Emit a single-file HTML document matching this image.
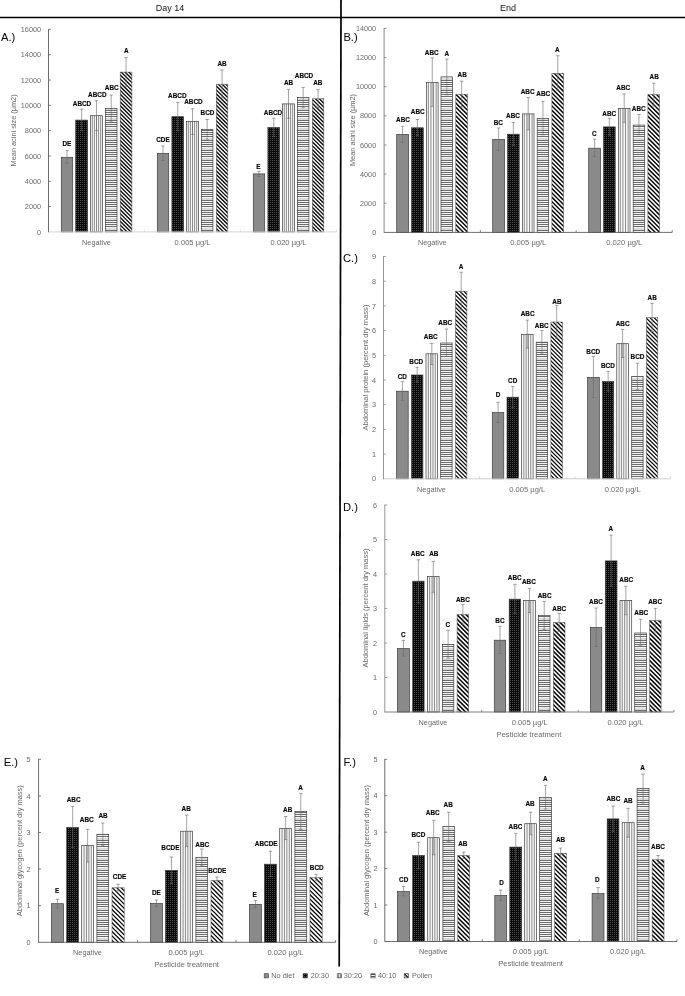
<!DOCTYPE html>
<html lang="en"><head><meta charset="utf-8"><title>Figure</title>
<style>
html,body{margin:0;padding:0;background:#fff;}
svg{display:block;}
text{font-family:"Liberation Sans",sans-serif;}
.g{fill:#6a6a6a;font-size:7.3px;}
.b{fill:#000;stroke:#000;stroke-width:0.12px;font-size:6.4px;font-weight:bold;text-anchor:middle;}
.p{fill:#000;font-size:11.2px;}
.h{fill:#111;font-size:9px;text-anchor:middle;}
.e{stroke:#6a6a6a;stroke-width:0.6;fill:none;}
.bar{stroke:#3c3c3c;stroke-width:0.7;}
</style></head><body>
<svg width="685" height="996" viewBox="0 0 685 996">
<defs>
<pattern id="pDots" patternUnits="userSpaceOnUse" width="2" height="2"><rect width="2" height="2" fill="#0a0a0a"/><rect x="0" y="0" width="1" height="1" fill="#4c4c4c"/></pattern>
<pattern id="pHorz" patternUnits="userSpaceOnUse" width="8" height="10"><rect width="8" height="10" fill="#f5f5f5"/><rect y="0" width="8" height="1" fill="#6c6c6c"/><rect y="2" width="8" height="1" fill="#6c6c6c"/><rect y="4" width="8" height="1" fill="#6c6c6c"/><rect y="6" width="8" height="1" fill="#6c6c6c"/><rect y="8" width="8" height="2" fill="#dadada"/></pattern>
<pattern id="pVertL" patternUnits="userSpaceOnUse" width="2" height="8" x="0.2"><rect width="2" height="8" fill="#f3f3f3"/><rect x="0" y="0" width="1" height="8" fill="#777"/></pattern>
<pattern id="pHorzL" patternUnits="userSpaceOnUse" width="8" height="2"><rect width="8" height="2" fill="#f5f5f5"/><rect x="0" y="0" width="8" height="1" fill="#555"/></pattern>
<pattern id="pDiagL" patternUnits="userSpaceOnUse" width="3" height="3" patternTransform="rotate(45)"><rect width="3" height="3" fill="#fff"/><rect x="0" y="0" width="3" height="1.5" fill="#0a0a0a"/></pattern>
</defs>
<rect width="685" height="996" fill="#fff"/>
<text class="h" x="170" y="11.12">Day 14</text>
<text class="h" x="508" y="11.12">End</text>
<line x1="0" y1="17.5" x2="685" y2="17.5" stroke="#000" stroke-width="1.7"/>
<line x1="341" y1="0" x2="339.2" y2="966.6" stroke="#000" stroke-width="1.7"/>
<g id="chartA">
<rect class="bar" x="61.3" y="157.3" width="11.4" height="74.6" fill="#8a8a8a"/>
<rect class="bar" x="75.7" y="120.1" width="11.9" height="111.8" fill="url(#pDots)"/>
<rect x="90.6" y="115.7" width="11.8" height="116.2" fill="#f9f9f9"/>
<path d="M92.3 115.7V231.9M94.4 115.7V231.9M96.5 115.7V231.9M98.6 115.7V231.9M100.7 115.7V231.9" stroke="#484848" stroke-width="0.62" fill="none"/>
<rect class="bar" x="90.6" y="115.7" width="11.8" height="116.2" fill="none"/>
<rect class="bar" x="105.4" y="108.5" width="11.6" height="123.4" fill="url(#pHorz)"/>
<clipPath id="cA4"><rect x="120.2" y="72.1" width="11.7" height="159.8"/></clipPath>
<rect x="120.2" y="72.1" width="11.7" height="159.8" fill="#fff"/>
<path clip-path="url(#cA4)" d="M119 58.35l14.1 14.1M119 62.2l14.1 14.1M119 66.05l14.1 14.1M119 69.9l14.1 14.1M119 73.75l14.1 14.1M119 77.6l14.1 14.1M119 81.45l14.1 14.1M119 85.3l14.1 14.1M119 89.15l14.1 14.1M119 93l14.1 14.1M119 96.85l14.1 14.1M119 100.7l14.1 14.1M119 104.55l14.1 14.1M119 108.4l14.1 14.1M119 112.25l14.1 14.1M119 116.1l14.1 14.1M119 119.95l14.1 14.1M119 123.8l14.1 14.1M119 127.65l14.1 14.1M119 131.5l14.1 14.1M119 135.35l14.1 14.1M119 139.2l14.1 14.1M119 143.05l14.1 14.1M119 146.9l14.1 14.1M119 150.75l14.1 14.1M119 154.6l14.1 14.1M119 158.45l14.1 14.1M119 162.3l14.1 14.1M119 166.15l14.1 14.1M119 170l14.1 14.1M119 173.85l14.1 14.1M119 177.7l14.1 14.1M119 181.55l14.1 14.1M119 185.4l14.1 14.1M119 189.25l14.1 14.1M119 193.1l14.1 14.1M119 196.95l14.1 14.1M119 200.8l14.1 14.1M119 204.65l14.1 14.1M119 208.5l14.1 14.1M119 212.35l14.1 14.1M119 216.2l14.1 14.1M119 220.05l14.1 14.1M119 223.9l14.1 14.1M119 227.75l14.1 14.1M119 231.6l14.1 14.1" stroke="#0a0a0a" stroke-width="1.36" fill="none"/>
<rect class="bar" x="120.2" y="72.1" width="11.7" height="159.8" fill="none" style="stroke:#555;stroke-width:0.55"/>
<rect class="bar" x="157.3" y="153.3" width="11.4" height="78.6" fill="#8a8a8a"/>
<rect class="bar" x="171.9" y="116.7" width="11.7" height="115.2" fill="url(#pDots)"/>
<rect x="186.6" y="121.5" width="11.8" height="110.4" fill="#f9f9f9"/>
<path d="M188.3 121.5V231.9M190.4 121.5V231.9M192.5 121.5V231.9M194.6 121.5V231.9M196.7 121.5V231.9" stroke="#484848" stroke-width="0.62" fill="none"/>
<rect class="bar" x="186.6" y="121.5" width="11.8" height="110.4" fill="none"/>
<rect class="bar" x="201.4" y="129.4" width="11.5" height="102.5" fill="url(#pHorz)"/>
<clipPath id="cA9"><rect x="216.3" y="84.2" width="11.5" height="147.7"/></clipPath>
<rect x="216.3" y="84.2" width="11.5" height="147.7" fill="#fff"/>
<path clip-path="url(#cA9)" d="M215.1 69.45l13.9 13.9M215.1 73.3l13.9 13.9M215.1 77.15l13.9 13.9M215.1 81l13.9 13.9M215.1 84.85l13.9 13.9M215.1 88.7l13.9 13.9M215.1 92.55l13.9 13.9M215.1 96.4l13.9 13.9M215.1 100.25l13.9 13.9M215.1 104.1l13.9 13.9M215.1 107.95l13.9 13.9M215.1 111.8l13.9 13.9M215.1 115.65l13.9 13.9M215.1 119.5l13.9 13.9M215.1 123.35l13.9 13.9M215.1 127.2l13.9 13.9M215.1 131.05l13.9 13.9M215.1 134.9l13.9 13.9M215.1 138.75l13.9 13.9M215.1 142.6l13.9 13.9M215.1 146.45l13.9 13.9M215.1 150.3l13.9 13.9M215.1 154.15l13.9 13.9M215.1 158l13.9 13.9M215.1 161.85l13.9 13.9M215.1 165.7l13.9 13.9M215.1 169.55l13.9 13.9M215.1 173.4l13.9 13.9M215.1 177.25l13.9 13.9M215.1 181.1l13.9 13.9M215.1 184.95l13.9 13.9M215.1 188.8l13.9 13.9M215.1 192.65l13.9 13.9M215.1 196.5l13.9 13.9M215.1 200.35l13.9 13.9M215.1 204.2l13.9 13.9M215.1 208.05l13.9 13.9M215.1 211.9l13.9 13.9M215.1 215.75l13.9 13.9M215.1 219.6l13.9 13.9M215.1 223.45l13.9 13.9M215.1 227.3l13.9 13.9M215.1 231.15l13.9 13.9" stroke="#0a0a0a" stroke-width="1.36" fill="none"/>
<rect class="bar" x="216.3" y="84.2" width="11.5" height="147.7" fill="none" style="stroke:#555;stroke-width:0.55"/>
<rect class="bar" x="253.3" y="173.9" width="11.4" height="58" fill="#8a8a8a"/>
<rect class="bar" x="267.9" y="127.5" width="11.7" height="104.4" fill="url(#pDots)"/>
<rect x="282.6" y="103.9" width="11.8" height="128" fill="#f9f9f9"/>
<path d="M284.3 103.9V231.9M286.4 103.9V231.9M288.5 103.9V231.9M290.6 103.9V231.9M292.7 103.9V231.9" stroke="#484848" stroke-width="0.62" fill="none"/>
<rect class="bar" x="282.6" y="103.9" width="11.8" height="128" fill="none"/>
<rect class="bar" x="297.4" y="97.6" width="11.5" height="134.3" fill="url(#pHorz)"/>
<clipPath id="cA14"><rect x="312.3" y="98.8" width="11.5" height="133.1"/></clipPath>
<rect x="312.3" y="98.8" width="11.5" height="133.1" fill="#fff"/>
<path clip-path="url(#cA14)" d="M311.1 86.7l13.9 13.9M311.1 90.55l13.9 13.9M311.1 94.4l13.9 13.9M311.1 98.25l13.9 13.9M311.1 102.1l13.9 13.9M311.1 105.95l13.9 13.9M311.1 109.8l13.9 13.9M311.1 113.65l13.9 13.9M311.1 117.5l13.9 13.9M311.1 121.35l13.9 13.9M311.1 125.2l13.9 13.9M311.1 129.05l13.9 13.9M311.1 132.9l13.9 13.9M311.1 136.75l13.9 13.9M311.1 140.6l13.9 13.9M311.1 144.45l13.9 13.9M311.1 148.3l13.9 13.9M311.1 152.15l13.9 13.9M311.1 156l13.9 13.9M311.1 159.85l13.9 13.9M311.1 163.7l13.9 13.9M311.1 167.55l13.9 13.9M311.1 171.4l13.9 13.9M311.1 175.25l13.9 13.9M311.1 179.1l13.9 13.9M311.1 182.95l13.9 13.9M311.1 186.8l13.9 13.9M311.1 190.65l13.9 13.9M311.1 194.5l13.9 13.9M311.1 198.35l13.9 13.9M311.1 202.2l13.9 13.9M311.1 206.05l13.9 13.9M311.1 209.9l13.9 13.9M311.1 213.75l13.9 13.9M311.1 217.6l13.9 13.9M311.1 221.45l13.9 13.9M311.1 225.3l13.9 13.9M311.1 229.15l13.9 13.9" stroke="#0a0a0a" stroke-width="1.36" fill="none"/>
<rect class="bar" x="312.3" y="98.8" width="11.5" height="133.1" fill="none" style="stroke:#555;stroke-width:0.55"/>
<line x1="48.5" y1="231.9" x2="336.4" y2="231.9" stroke="#cfcfcf" stroke-width="0.9"/>
<line x1="144.4" y1="231.9" x2="144.4" y2="229.7" stroke="#cfcfcf" stroke-width="0.8"/>
<line x1="240.4" y1="231.9" x2="240.4" y2="229.7" stroke="#cfcfcf" stroke-width="0.8"/>
<line x1="336.4" y1="231.9" x2="336.4" y2="229.7" stroke="#cfcfcf" stroke-width="0.8"/>
<line x1="48.5" y1="29" x2="48.5" y2="232.3" stroke="#5e5e5e" stroke-width="0.9"/>
<text class="g" text-anchor="end" x="41.1" y="234.51">0</text>
<line x1="48.5" y1="206.59" x2="50.9" y2="206.59" stroke="#5e5e5e" stroke-width="0.8"/>
<text class="g" text-anchor="end" x="41.1" y="209.2">2000</text>
<line x1="48.5" y1="181.28" x2="50.9" y2="181.28" stroke="#5e5e5e" stroke-width="0.8"/>
<text class="g" text-anchor="end" x="41.1" y="183.89">4000</text>
<line x1="48.5" y1="155.96" x2="50.9" y2="155.96" stroke="#5e5e5e" stroke-width="0.8"/>
<text class="g" text-anchor="end" x="41.1" y="158.58">6000</text>
<line x1="48.5" y1="130.65" x2="50.9" y2="130.65" stroke="#5e5e5e" stroke-width="0.8"/>
<text class="g" text-anchor="end" x="41.1" y="133.26">8000</text>
<line x1="48.5" y1="105.34" x2="50.9" y2="105.34" stroke="#5e5e5e" stroke-width="0.8"/>
<text class="g" text-anchor="end" x="41.1" y="107.95">10000</text>
<line x1="48.5" y1="80.03" x2="50.9" y2="80.03" stroke="#5e5e5e" stroke-width="0.8"/>
<text class="g" text-anchor="end" x="41.1" y="82.64">12000</text>
<line x1="48.5" y1="54.71" x2="50.9" y2="54.71" stroke="#5e5e5e" stroke-width="0.8"/>
<text class="g" text-anchor="end" x="41.1" y="57.33">14000</text>
<line x1="48.5" y1="29.4" x2="50.9" y2="29.4" stroke="#5e5e5e" stroke-width="0.8"/>
<text class="g" text-anchor="end" x="41.1" y="32.01">16000</text>
<path class="e" d="M67 150.6V163.3M65.3 150.6H68.7M65.3 163.3H68.7"/>
<text class="b" x="66.9" y="146.09">DE</text>
<path class="e" d="M81.65 109.1V130.7M79.95 109.1H83.35M79.95 130.7H83.35"/>
<text class="b" x="82" y="106.19">ABCD</text>
<path class="e" d="M96.5 100.6V130.4M94.8 100.6H98.2M94.8 130.4H98.2"/>
<text class="b" x="97.3" y="97.09">ABCD</text>
<path class="e" d="M111.2 95V121.9M109.5 95H112.9M109.5 121.9H112.9"/>
<text class="b" x="111.7" y="90.49">ABC</text>
<path class="e" d="M126.05 57.5V86.3M124.35 57.5H127.75M124.35 86.3H127.75"/>
<text class="b" x="126.2" y="53.29">A</text>
<path class="e" d="M163 146V160.5M161.3 146H164.7M161.3 160.5H164.7"/>
<text class="b" x="163" y="142.09">CDE</text>
<path class="e" d="M177.75 102.4V130.6M176.05 102.4H179.45M176.05 130.6H179.45"/>
<text class="b" x="177.3" y="97.89">ABCD</text>
<path class="e" d="M192.5 108.7V134.4M190.8 108.7H194.2M190.8 134.4H194.2"/>
<text class="b" x="193.4" y="104.29">ABCD</text>
<path class="e" d="M207.15 119.5V139.8M205.45 119.5H208.85M205.45 139.8H208.85"/>
<text class="b" x="207.5" y="114.99">BCD</text>
<path class="e" d="M222.05 70.1V97.9M220.35 70.1H223.75M220.35 97.9H223.75"/>
<text class="b" x="222" y="65.79">AB</text>
<path class="e" d="M259 171.3V176.5M257.3 171.3H260.7M257.3 176.5H260.7"/>
<text class="b" x="258.3" y="168.99">E</text>
<path class="e" d="M273.75 118.3V136.4M272.05 118.3H275.45M272.05 136.4H275.45"/>
<text class="b" x="273" y="114.99">ABCD</text>
<path class="e" d="M288.5 89.4V118.3M286.8 89.4H290.2M286.8 118.3H290.2"/>
<text class="b" x="288.6" y="84.69">AB</text>
<path class="e" d="M303.15 87.4V107.9M301.45 87.4H304.85M301.45 107.9H304.85"/>
<text class="b" x="304" y="77.79">ABCD</text>
<path class="e" d="M318.05 89.4V107.8M316.35 89.4H319.75M316.35 107.8H319.75"/>
<text class="b" x="317.8" y="84.69">AB</text>
<text class="g" text-anchor="middle" textLength="28.8" lengthAdjust="spacingAndGlyphs" x="96.5" y="244.59">Negative</text>
<text class="g" text-anchor="middle" textLength="36" lengthAdjust="spacingAndGlyphs" x="192.6" y="244.59">0.005 µg/L</text>
<text class="g" text-anchor="middle" textLength="36" lengthAdjust="spacingAndGlyphs" x="288.6" y="244.59">0.020 µg/L</text>
<text class="g" text-anchor="middle" textLength="72" lengthAdjust="spacingAndGlyphs" transform="translate(16.34 130.4) rotate(-90)" x="0" y="0">Mean acini size (µm2)</text>
<text class="p" x="1" y="41.06">A.)</text>
</g>
<g id="chartB">
<rect class="bar" x="396.7" y="134.4" width="11.8" height="98" fill="#8a8a8a"/>
<rect class="bar" x="411.5" y="127.8" width="11.8" height="104.6" fill="url(#pDots)"/>
<rect x="426.4" y="82.6" width="11.7" height="149.8" fill="#f9f9f9"/>
<path d="M428.35 82.6V232.4M430.95 82.6V232.4M433.55 82.6V232.4M436.15 82.6V232.4" stroke="#484848" stroke-width="0.62" fill="none"/>
<rect class="bar" x="426.4" y="82.6" width="11.7" height="149.8" fill="none"/>
<rect class="bar" x="441" y="76.9" width="11.6" height="155.5" fill="url(#pHorz)"/>
<clipPath id="cB4"><rect x="455.8" y="94.2" width="11.7" height="138.2"/></clipPath>
<rect x="455.8" y="94.2" width="11.7" height="138.2" fill="#fff"/>
<path clip-path="url(#cB4)" d="M454.6 79.95l14.1 14.1M454.6 84.3l14.1 14.1M454.6 88.65l14.1 14.1M454.6 93l14.1 14.1M454.6 97.35l14.1 14.1M454.6 101.7l14.1 14.1M454.6 106.05l14.1 14.1M454.6 110.4l14.1 14.1M454.6 114.75l14.1 14.1M454.6 119.1l14.1 14.1M454.6 123.45l14.1 14.1M454.6 127.8l14.1 14.1M454.6 132.15l14.1 14.1M454.6 136.5l14.1 14.1M454.6 140.85l14.1 14.1M454.6 145.2l14.1 14.1M454.6 149.55l14.1 14.1M454.6 153.9l14.1 14.1M454.6 158.25l14.1 14.1M454.6 162.6l14.1 14.1M454.6 166.95l14.1 14.1M454.6 171.3l14.1 14.1M454.6 175.65l14.1 14.1M454.6 180l14.1 14.1M454.6 184.35l14.1 14.1M454.6 188.7l14.1 14.1M454.6 193.05l14.1 14.1M454.6 197.4l14.1 14.1M454.6 201.75l14.1 14.1M454.6 206.1l14.1 14.1M454.6 210.45l14.1 14.1M454.6 214.8l14.1 14.1M454.6 219.15l14.1 14.1M454.6 223.5l14.1 14.1M454.6 227.85l14.1 14.1M454.6 232.2l14.1 14.1" stroke="#0a0a0a" stroke-width="1.45" fill="none"/>
<rect class="bar" x="455.8" y="94.2" width="11.7" height="138.2" fill="none" style="stroke:#555;stroke-width:0.55"/>
<rect class="bar" x="492.7" y="139.4" width="11.8" height="93" fill="#8a8a8a"/>
<rect class="bar" x="507.5" y="134.2" width="11.7" height="98.2" fill="url(#pDots)"/>
<rect x="522.4" y="113.9" width="11.6" height="118.5" fill="#f9f9f9"/>
<path d="M524.3 113.9V232.4M526.9 113.9V232.4M529.5 113.9V232.4M532.1 113.9V232.4" stroke="#484848" stroke-width="0.62" fill="none"/>
<rect class="bar" x="522.4" y="113.9" width="11.6" height="118.5" fill="none"/>
<rect class="bar" x="537.2" y="118.5" width="11.5" height="113.9" fill="url(#pHorz)"/>
<clipPath id="cB9"><rect x="551.9" y="73.3" width="11.7" height="159.1"/></clipPath>
<rect x="551.9" y="73.3" width="11.7" height="159.1" fill="#fff"/>
<path clip-path="url(#cB9)" d="M550.7 61.2l14.1 14.1M550.7 65.55l14.1 14.1M550.7 69.9l14.1 14.1M550.7 74.25l14.1 14.1M550.7 78.6l14.1 14.1M550.7 82.95l14.1 14.1M550.7 87.3l14.1 14.1M550.7 91.65l14.1 14.1M550.7 96l14.1 14.1M550.7 100.35l14.1 14.1M550.7 104.7l14.1 14.1M550.7 109.05l14.1 14.1M550.7 113.4l14.1 14.1M550.7 117.75l14.1 14.1M550.7 122.1l14.1 14.1M550.7 126.45l14.1 14.1M550.7 130.8l14.1 14.1M550.7 135.15l14.1 14.1M550.7 139.5l14.1 14.1M550.7 143.85l14.1 14.1M550.7 148.2l14.1 14.1M550.7 152.55l14.1 14.1M550.7 156.9l14.1 14.1M550.7 161.25l14.1 14.1M550.7 165.6l14.1 14.1M550.7 169.95l14.1 14.1M550.7 174.3l14.1 14.1M550.7 178.65l14.1 14.1M550.7 183l14.1 14.1M550.7 187.35l14.1 14.1M550.7 191.7l14.1 14.1M550.7 196.05l14.1 14.1M550.7 200.4l14.1 14.1M550.7 204.75l14.1 14.1M550.7 209.1l14.1 14.1M550.7 213.45l14.1 14.1M550.7 217.8l14.1 14.1M550.7 222.15l14.1 14.1M550.7 226.5l14.1 14.1M550.7 230.85l14.1 14.1" stroke="#0a0a0a" stroke-width="1.45" fill="none"/>
<rect class="bar" x="551.9" y="73.3" width="11.7" height="159.1" fill="none" style="stroke:#555;stroke-width:0.55"/>
<rect class="bar" x="588.7" y="148.2" width="11.8" height="84.2" fill="#8a8a8a"/>
<rect class="bar" x="603.5" y="126.9" width="11.7" height="105.5" fill="url(#pDots)"/>
<rect x="618.4" y="108.3" width="11.6" height="124.1" fill="#f9f9f9"/>
<path d="M620.3 108.3V232.4M622.9 108.3V232.4M625.5 108.3V232.4M628.1 108.3V232.4" stroke="#484848" stroke-width="0.62" fill="none"/>
<rect class="bar" x="618.4" y="108.3" width="11.6" height="124.1" fill="none"/>
<rect class="bar" x="633.2" y="125.1" width="11.5" height="107.3" fill="url(#pHorz)"/>
<clipPath id="cB14"><rect x="647.9" y="94.6" width="11.7" height="137.8"/></clipPath>
<rect x="647.9" y="94.6" width="11.7" height="137.8" fill="#fff"/>
<path clip-path="url(#cB14)" d="M646.7 80.3l14.1 14.1M646.7 84.65l14.1 14.1M646.7 89l14.1 14.1M646.7 93.35l14.1 14.1M646.7 97.7l14.1 14.1M646.7 102.05l14.1 14.1M646.7 106.4l14.1 14.1M646.7 110.75l14.1 14.1M646.7 115.1l14.1 14.1M646.7 119.45l14.1 14.1M646.7 123.8l14.1 14.1M646.7 128.15l14.1 14.1M646.7 132.5l14.1 14.1M646.7 136.85l14.1 14.1M646.7 141.2l14.1 14.1M646.7 145.55l14.1 14.1M646.7 149.9l14.1 14.1M646.7 154.25l14.1 14.1M646.7 158.6l14.1 14.1M646.7 162.95l14.1 14.1M646.7 167.3l14.1 14.1M646.7 171.65l14.1 14.1M646.7 176l14.1 14.1M646.7 180.35l14.1 14.1M646.7 184.7l14.1 14.1M646.7 189.05l14.1 14.1M646.7 193.4l14.1 14.1M646.7 197.75l14.1 14.1M646.7 202.1l14.1 14.1M646.7 206.45l14.1 14.1M646.7 210.8l14.1 14.1M646.7 215.15l14.1 14.1M646.7 219.5l14.1 14.1M646.7 223.85l14.1 14.1M646.7 228.2l14.1 14.1M646.7 232.55l14.1 14.1" stroke="#0a0a0a" stroke-width="1.45" fill="none"/>
<rect class="bar" x="647.9" y="94.6" width="11.7" height="137.8" fill="none" style="stroke:#555;stroke-width:0.55"/>
<line x1="384.1" y1="232.4" x2="672.2" y2="232.4" stroke="#5e5e5e" stroke-width="0.9"/>
<line x1="480.4" y1="232.4" x2="480.4" y2="230.2" stroke="#5e5e5e" stroke-width="0.8"/>
<line x1="576.2" y1="232.4" x2="576.2" y2="230.2" stroke="#5e5e5e" stroke-width="0.8"/>
<line x1="672.2" y1="232.4" x2="672.2" y2="230.2" stroke="#5e5e5e" stroke-width="0.8"/>
<line x1="384.1" y1="28" x2="384.1" y2="232.8" stroke="#7a7a7a" stroke-width="0.9"/>
<text class="g" text-anchor="end" x="376.2" y="235.01">0</text>
<line x1="384.1" y1="203.26" x2="386.5" y2="203.26" stroke="#7a7a7a" stroke-width="0.8"/>
<text class="g" text-anchor="end" x="376.2" y="205.87">2000</text>
<line x1="384.1" y1="174.11" x2="386.5" y2="174.11" stroke="#7a7a7a" stroke-width="0.8"/>
<text class="g" text-anchor="end" x="376.2" y="176.73">4000</text>
<line x1="384.1" y1="144.97" x2="386.5" y2="144.97" stroke="#7a7a7a" stroke-width="0.8"/>
<text class="g" text-anchor="end" x="376.2" y="147.58">6000</text>
<line x1="384.1" y1="115.83" x2="386.5" y2="115.83" stroke="#7a7a7a" stroke-width="0.8"/>
<text class="g" text-anchor="end" x="376.2" y="118.44">8000</text>
<line x1="384.1" y1="86.69" x2="386.5" y2="86.69" stroke="#7a7a7a" stroke-width="0.8"/>
<text class="g" text-anchor="end" x="376.2" y="89.3">10000</text>
<line x1="384.1" y1="57.54" x2="386.5" y2="57.54" stroke="#7a7a7a" stroke-width="0.8"/>
<text class="g" text-anchor="end" x="376.2" y="60.16">12000</text>
<line x1="384.1" y1="28.4" x2="386.5" y2="28.4" stroke="#7a7a7a" stroke-width="0.8"/>
<text class="g" text-anchor="end" x="376.2" y="31.01">14000</text>
<path class="e" d="M402.6 126.3V142.4M400.9 126.3H404.3M400.9 142.4H404.3"/>
<text class="b" x="403" y="122.19">ABC</text>
<path class="e" d="M417.4 119.5V135.7M415.7 119.5H419.1M415.7 135.7H419.1"/>
<text class="b" x="417.8" y="113.99">ABC</text>
<path class="e" d="M432.25 57.9V106.3M430.55 57.9H433.95M430.55 106.3H433.95"/>
<text class="b" x="431.8" y="55.19">ABC</text>
<path class="e" d="M446.8 59.1V94.8M445.1 59.1H448.5M445.1 94.8H448.5"/>
<text class="b" x="446.9" y="55.99">A</text>
<path class="e" d="M461.65 81.2V106.8M459.95 81.2H463.35M459.95 106.8H463.35"/>
<text class="b" x="462.2" y="76.99">AB</text>
<path class="e" d="M498.6 128V150.4M496.9 128H500.3M496.9 150.4H500.3"/>
<text class="b" x="498.3" y="124.59">BC</text>
<path class="e" d="M513.35 122.5V145.2M511.65 122.5H515.05M511.65 145.2H515.05"/>
<text class="b" x="513" y="118.19">ABC</text>
<path class="e" d="M528.2 97.6V129.8M526.5 97.6H529.9M526.5 129.8H529.9"/>
<text class="b" x="527.6" y="93.89">ABC</text>
<path class="e" d="M542.95 101.4V134.8M541.25 101.4H544.65M541.25 134.8H544.65"/>
<text class="b" x="543.3" y="96.49">ABC</text>
<path class="e" d="M557.75 55.7V90.2M556.05 55.7H559.45M556.05 90.2H559.45"/>
<text class="b" x="557.4" y="52.29">A</text>
<path class="e" d="M594.6 139.2V156.5M592.9 139.2H596.3M592.9 156.5H596.3"/>
<text class="b" x="594.3" y="135.69">C</text>
<path class="e" d="M609.35 118.3V135.1M607.65 118.3H611.05M607.65 135.1H611.05"/>
<text class="b" x="609.2" y="115.79">ABC</text>
<path class="e" d="M624.2 94V122.3M622.5 94H625.9M622.5 122.3H625.9"/>
<text class="b" x="623.2" y="90.09">ABC</text>
<path class="e" d="M638.95 114.5V134.8M637.25 114.5H640.65M637.25 134.8H640.65"/>
<text class="b" x="638.7" y="111.19">ABC</text>
<path class="e" d="M653.75 83.2V105.9M652.05 83.2H655.45M652.05 105.9H655.45"/>
<text class="b" x="654.2" y="79.19">AB</text>
<text class="g" text-anchor="middle" textLength="28.8" lengthAdjust="spacingAndGlyphs" x="432.3" y="244.59">Negative</text>
<text class="g" text-anchor="middle" textLength="36" lengthAdjust="spacingAndGlyphs" x="528.3" y="244.59">0.005 µg/L</text>
<text class="g" text-anchor="middle" textLength="36" lengthAdjust="spacingAndGlyphs" x="624.3" y="244.59">0.020 µg/L</text>
<text class="g" text-anchor="middle" textLength="72" lengthAdjust="spacingAndGlyphs" transform="translate(354.54 130) rotate(-90)" x="0" y="0">Mean acini size (µm2)</text>
<text class="p" x="343.4" y="41.36">B.)</text>
</g>
<g id="chartC">
<rect class="bar" x="396.6" y="391.2" width="11.6" height="87.6" fill="#8a8a8a"/>
<rect class="bar" x="411.5" y="375" width="11.4" height="103.8" fill="url(#pDots)"/>
<rect x="426" y="353.8" width="11.6" height="125" fill="#f9f9f9"/>
<path d="M428.35 353.8V478.8M430.65 353.8V478.8M432.95 353.8V478.8M435.25 353.8V478.8" stroke="#484848" stroke-width="0.62" fill="none"/>
<rect class="bar" x="426" y="353.8" width="11.6" height="125" fill="none"/>
<rect class="bar" x="440.7" y="343" width="11.4" height="135.8" fill="url(#pHorz)"/>
<clipPath id="cC4"><rect x="455.5" y="291.2" width="11.4" height="187.6"/></clipPath>
<rect x="455.5" y="291.2" width="11.4" height="187.6" fill="#fff"/>
<path clip-path="url(#cC4)" d="M454.3 277.51l13.8 13.8M454.3 281.6l13.8 13.8M454.3 285.69l13.8 13.8M454.3 289.78l13.8 13.8M454.3 293.87l13.8 13.8M454.3 297.96l13.8 13.8M454.3 302.05l13.8 13.8M454.3 306.14l13.8 13.8M454.3 310.23l13.8 13.8M454.3 314.32l13.8 13.8M454.3 318.41l13.8 13.8M454.3 322.5l13.8 13.8M454.3 326.59l13.8 13.8M454.3 330.68l13.8 13.8M454.3 334.77l13.8 13.8M454.3 338.86l13.8 13.8M454.3 342.95l13.8 13.8M454.3 347.04l13.8 13.8M454.3 351.13l13.8 13.8M454.3 355.22l13.8 13.8M454.3 359.31l13.8 13.8M454.3 363.4l13.8 13.8M454.3 367.49l13.8 13.8M454.3 371.58l13.8 13.8M454.3 375.67l13.8 13.8M454.3 379.76l13.8 13.8M454.3 383.85l13.8 13.8M454.3 387.94l13.8 13.8M454.3 392.03l13.8 13.8M454.3 396.12l13.8 13.8M454.3 400.21l13.8 13.8M454.3 404.3l13.8 13.8M454.3 408.39l13.8 13.8M454.3 412.48l13.8 13.8M454.3 416.57l13.8 13.8M454.3 420.66l13.8 13.8M454.3 424.75l13.8 13.8M454.3 428.84l13.8 13.8M454.3 432.93l13.8 13.8M454.3 437.02l13.8 13.8M454.3 441.11l13.8 13.8M454.3 445.2l13.8 13.8M454.3 449.29l13.8 13.8M454.3 453.38l13.8 13.8M454.3 457.47l13.8 13.8M454.3 461.56l13.8 13.8M454.3 465.65l13.8 13.8M454.3 469.74l13.8 13.8M454.3 473.83l13.8 13.8M454.3 477.92l13.8 13.8" stroke="#0a0a0a" stroke-width="1.27" fill="none"/>
<rect class="bar" x="455.5" y="291.2" width="11.4" height="187.6" fill="none" style="stroke:#555;stroke-width:0.55"/>
<rect class="bar" x="492.3" y="412.6" width="11.5" height="66.2" fill="#8a8a8a"/>
<rect class="bar" x="507" y="397.2" width="11.5" height="81.6" fill="url(#pDots)"/>
<rect x="521.5" y="334.3" width="11.6" height="144.5" fill="#f9f9f9"/>
<path d="M523.85 334.3V478.8M526.15 334.3V478.8M528.45 334.3V478.8M530.75 334.3V478.8" stroke="#484848" stroke-width="0.62" fill="none"/>
<rect class="bar" x="521.5" y="334.3" width="11.6" height="144.5" fill="none"/>
<rect class="bar" x="536.2" y="342.2" width="11.4" height="136.6" fill="url(#pHorz)"/>
<clipPath id="cC9"><rect x="550.9" y="322" width="11.6" height="156.8"/></clipPath>
<rect x="550.9" y="322" width="11.6" height="156.8" fill="#fff"/>
<path clip-path="url(#cC9)" d="M549.7 310.52l14 14M549.7 314.61l14 14M549.7 318.7l14 14M549.7 322.79l14 14M549.7 326.88l14 14M549.7 330.97l14 14M549.7 335.06l14 14M549.7 339.15l14 14M549.7 343.24l14 14M549.7 347.33l14 14M549.7 351.42l14 14M549.7 355.51l14 14M549.7 359.6l14 14M549.7 363.69l14 14M549.7 367.78l14 14M549.7 371.87l14 14M549.7 375.96l14 14M549.7 380.05l14 14M549.7 384.14l14 14M549.7 388.23l14 14M549.7 392.32l14 14M549.7 396.41l14 14M549.7 400.5l14 14M549.7 404.59l14 14M549.7 408.68l14 14M549.7 412.77l14 14M549.7 416.86l14 14M549.7 420.95l14 14M549.7 425.04l14 14M549.7 429.13l14 14M549.7 433.22l14 14M549.7 437.31l14 14M549.7 441.4l14 14M549.7 445.49l14 14M549.7 449.58l14 14M549.7 453.67l14 14M549.7 457.76l14 14M549.7 461.85l14 14M549.7 465.94l14 14M549.7 470.03l14 14M549.7 474.12l14 14M549.7 478.21l14 14" stroke="#0a0a0a" stroke-width="1.27" fill="none"/>
<rect class="bar" x="550.9" y="322" width="11.6" height="156.8" fill="none" style="stroke:#555;stroke-width:0.55"/>
<rect class="bar" x="587.6" y="377.4" width="11.7" height="101.4" fill="#8a8a8a"/>
<rect class="bar" x="602.6" y="381.5" width="11.1" height="97.3" fill="url(#pDots)"/>
<rect x="616.8" y="343.7" width="11.6" height="135.1" fill="#f9f9f9"/>
<path d="M619.15 343.7V478.8M621.45 343.7V478.8M623.75 343.7V478.8M626.05 343.7V478.8" stroke="#484848" stroke-width="0.62" fill="none"/>
<rect class="bar" x="616.8" y="343.7" width="11.6" height="135.1" fill="none"/>
<rect class="bar" x="631.7" y="376.5" width="11.4" height="102.3" fill="url(#pHorz)"/>
<clipPath id="cC14"><rect x="646.4" y="317.7" width="11.4" height="161.1"/></clipPath>
<rect x="646.4" y="317.7" width="11.4" height="161.1" fill="#fff"/>
<path clip-path="url(#cC14)" d="M645.2 304.74l13.8 13.8M645.2 308.83l13.8 13.8M645.2 312.92l13.8 13.8M645.2 317.01l13.8 13.8M645.2 321.1l13.8 13.8M645.2 325.19l13.8 13.8M645.2 329.28l13.8 13.8M645.2 333.37l13.8 13.8M645.2 337.46l13.8 13.8M645.2 341.55l13.8 13.8M645.2 345.64l13.8 13.8M645.2 349.73l13.8 13.8M645.2 353.82l13.8 13.8M645.2 357.91l13.8 13.8M645.2 362l13.8 13.8M645.2 366.09l13.8 13.8M645.2 370.18l13.8 13.8M645.2 374.27l13.8 13.8M645.2 378.36l13.8 13.8M645.2 382.45l13.8 13.8M645.2 386.54l13.8 13.8M645.2 390.63l13.8 13.8M645.2 394.72l13.8 13.8M645.2 398.81l13.8 13.8M645.2 402.9l13.8 13.8M645.2 406.99l13.8 13.8M645.2 411.08l13.8 13.8M645.2 415.17l13.8 13.8M645.2 419.26l13.8 13.8M645.2 423.35l13.8 13.8M645.2 427.44l13.8 13.8M645.2 431.53l13.8 13.8M645.2 435.62l13.8 13.8M645.2 439.71l13.8 13.8M645.2 443.8l13.8 13.8M645.2 447.89l13.8 13.8M645.2 451.98l13.8 13.8M645.2 456.07l13.8 13.8M645.2 460.16l13.8 13.8M645.2 464.25l13.8 13.8M645.2 468.34l13.8 13.8M645.2 472.43l13.8 13.8M645.2 476.52l13.8 13.8" stroke="#0a0a0a" stroke-width="1.27" fill="none"/>
<rect class="bar" x="646.4" y="317.7" width="11.4" height="161.1" fill="none" style="stroke:#555;stroke-width:0.55"/>
<line x1="383.5" y1="478.8" x2="670.4" y2="478.8" stroke="#c8c8c8" stroke-width="0.9"/>
<line x1="479.5" y1="478.8" x2="479.5" y2="476.6" stroke="#c8c8c8" stroke-width="0.8"/>
<line x1="575" y1="478.8" x2="575" y2="476.6" stroke="#c8c8c8" stroke-width="0.8"/>
<line x1="670.4" y1="478.8" x2="670.4" y2="476.6" stroke="#c8c8c8" stroke-width="0.8"/>
<line x1="383.5" y1="256.1" x2="383.5" y2="479.2" stroke="#8a8a8a" stroke-width="0.9"/>
<text class="g" text-anchor="end" x="376.1" y="481.41">0</text>
<line x1="383.5" y1="454.1" x2="385.9" y2="454.1" stroke="#8a8a8a" stroke-width="0.8"/>
<text class="g" text-anchor="end" x="376.1" y="456.71">1</text>
<line x1="383.5" y1="429.4" x2="385.9" y2="429.4" stroke="#8a8a8a" stroke-width="0.8"/>
<text class="g" text-anchor="end" x="376.1" y="432.01">2</text>
<line x1="383.5" y1="404.7" x2="385.9" y2="404.7" stroke="#8a8a8a" stroke-width="0.8"/>
<text class="g" text-anchor="end" x="376.1" y="407.31">3</text>
<line x1="383.5" y1="380" x2="385.9" y2="380" stroke="#8a8a8a" stroke-width="0.8"/>
<text class="g" text-anchor="end" x="376.1" y="382.61">4</text>
<line x1="383.5" y1="355.3" x2="385.9" y2="355.3" stroke="#8a8a8a" stroke-width="0.8"/>
<text class="g" text-anchor="end" x="376.1" y="357.91">5</text>
<line x1="383.5" y1="330.6" x2="385.9" y2="330.6" stroke="#8a8a8a" stroke-width="0.8"/>
<text class="g" text-anchor="end" x="376.1" y="333.21">6</text>
<line x1="383.5" y1="305.9" x2="385.9" y2="305.9" stroke="#8a8a8a" stroke-width="0.8"/>
<text class="g" text-anchor="end" x="376.1" y="308.51">7</text>
<line x1="383.5" y1="281.2" x2="385.9" y2="281.2" stroke="#8a8a8a" stroke-width="0.8"/>
<text class="g" text-anchor="end" x="376.1" y="283.81">8</text>
<line x1="383.5" y1="256.5" x2="385.9" y2="256.5" stroke="#8a8a8a" stroke-width="0.8"/>
<text class="g" text-anchor="end" x="376.1" y="259.11">9</text>
<path class="e" d="M402.4 381.6V400.4M400.7 381.6H404.1M400.7 400.4H404.1"/>
<text class="b" x="402.3" y="378.79">CD</text>
<path class="e" d="M417.2 367.3V382M415.5 367.3H418.9M415.5 382H418.9"/>
<text class="b" x="416.2" y="364.09">BCD</text>
<path class="e" d="M431.8 343.5V364.5M430.1 343.5H433.5M430.1 364.5H433.5"/>
<text class="b" x="430.8" y="338.99">ABC</text>
<path class="e" d="M446.4 329V356.5M444.7 329H448.1M444.7 356.5H448.1"/>
<text class="b" x="445.2" y="325.09">ABC</text>
<path class="e" d="M461.2 272.2V309.8M459.5 272.2H462.9M459.5 309.8H462.9"/>
<text class="b" x="461.1" y="268.89">A</text>
<path class="e" d="M498.05 402.3V422.5M496.35 402.3H499.75M496.35 422.5H499.75"/>
<text class="b" x="498" y="397.39">D</text>
<path class="e" d="M512.75 386.4V407.8M511.05 386.4H514.45M511.05 407.8H514.45"/>
<text class="b" x="512.7" y="382.69">CD</text>
<path class="e" d="M527.3 320.1V348.1M525.6 320.1H529M525.6 348.1H529"/>
<text class="b" x="527.6" y="316.19">ABC</text>
<path class="e" d="M541.9 330.5V354.1M540.2 330.5H543.6M540.2 354.1H543.6"/>
<text class="b" x="541.7" y="327.99">ABC</text>
<path class="e" d="M556.7 305.4V338.2M555 305.4H558.4M555 338.2H558.4"/>
<text class="b" x="556.9" y="303.59">AB</text>
<path class="e" d="M593.45 356.3V397.5M591.75 356.3H595.15M591.75 397.5H595.15"/>
<text class="b" x="593.2" y="353.99">BCD</text>
<path class="e" d="M608.15 371.4V391M606.45 371.4H609.85M606.45 391H609.85"/>
<text class="b" x="607.9" y="368.39">BCD</text>
<path class="e" d="M622.6 329.5V357.5M620.9 329.5H624.3M620.9 357.5H624.3"/>
<text class="b" x="622.6" y="325.79">ABC</text>
<path class="e" d="M637.4 363.3V389.8M635.7 363.3H639.1M635.7 389.8H639.1"/>
<text class="b" x="637.5" y="359.29">BCD</text>
<path class="e" d="M652.1 303.5V331.5M650.4 303.5H653.8M650.4 331.5H653.8"/>
<text class="b" x="652.2" y="299.99">AB</text>
<text class="g" text-anchor="middle" textLength="28.8" lengthAdjust="spacingAndGlyphs" x="431.5" y="491.99">Negative</text>
<text class="g" text-anchor="middle" textLength="36" lengthAdjust="spacingAndGlyphs" x="527.2" y="491.99">0.005 µg/L</text>
<text class="g" text-anchor="middle" textLength="36" lengthAdjust="spacingAndGlyphs" x="622.7" y="491.99">0.020 µg/L</text>
<text class="g" text-anchor="middle" textLength="126" lengthAdjust="spacingAndGlyphs" transform="translate(367.64 367.6) rotate(-90)" x="0" y="0">Abdominal protein (percent dry mass)</text>
<text class="p" x="343" y="261.66">C.)</text>
</g>
<g id="chartD">
<rect class="bar" x="397.5" y="648.6" width="11.9" height="63.4" fill="#8a8a8a"/>
<rect class="bar" x="412.7" y="581.2" width="11.4" height="130.8" fill="url(#pDots)"/>
<rect x="427.4" y="576.6" width="11.7" height="135.4" fill="#f9f9f9"/>
<path d="M429.65 576.6V712M432.05 576.6V712M434.45 576.6V712M436.85 576.6V712" stroke="#484848" stroke-width="0.62" fill="none"/>
<rect class="bar" x="427.4" y="576.6" width="11.7" height="135.4" fill="none"/>
<rect class="bar" x="442.4" y="644.5" width="11.4" height="67.5" fill="url(#pHorz)"/>
<clipPath id="cD4"><rect x="457.1" y="614.4" width="11.6" height="97.6"/></clipPath>
<rect x="457.1" y="614.4" width="11.6" height="97.6" fill="#fff"/>
<path clip-path="url(#cD4)" d="M455.9 600.16l14 14M455.9 604.6l14 14M455.9 609.04l14 14M455.9 613.48l14 14M455.9 617.92l14 14M455.9 622.36l14 14M455.9 626.8l14 14M455.9 631.24l14 14M455.9 635.68l14 14M455.9 640.12l14 14M455.9 644.56l14 14M455.9 649l14 14M455.9 653.44l14 14M455.9 657.88l14 14M455.9 662.32l14 14M455.9 666.76l14 14M455.9 671.2l14 14M455.9 675.64l14 14M455.9 680.08l14 14M455.9 684.52l14 14M455.9 688.96l14 14M455.9 693.4l14 14M455.9 697.84l14 14M455.9 702.28l14 14M455.9 706.72l14 14M455.9 711.16l14 14" stroke="#0a0a0a" stroke-width="1.57" fill="none"/>
<rect class="bar" x="457.1" y="614.4" width="11.6" height="97.6" fill="none" style="stroke:#555;stroke-width:0.55"/>
<rect class="bar" x="494.3" y="640.2" width="11.4" height="71.8" fill="#8a8a8a"/>
<rect class="bar" x="509.2" y="599.2" width="11.4" height="112.8" fill="url(#pDots)"/>
<rect x="523.4" y="600.4" width="12.2" height="111.6" fill="#f9f9f9"/>
<path d="M525.9 600.4V712M528.3 600.4V712M530.7 600.4V712M533.1 600.4V712" stroke="#484848" stroke-width="0.62" fill="none"/>
<rect class="bar" x="523.4" y="600.4" width="12.2" height="111.6" fill="none"/>
<rect class="bar" x="538.4" y="615.6" width="11.6" height="96.4" fill="url(#pHorz)"/>
<clipPath id="cD9"><rect x="553.3" y="622.4" width="11.7" height="89.6"/></clipPath>
<rect x="553.3" y="622.4" width="11.7" height="89.6" fill="#fff"/>
<path clip-path="url(#cD9)" d="M552.1 610.12l14.1 14.1M552.1 614.56l14.1 14.1M552.1 619l14.1 14.1M552.1 623.44l14.1 14.1M552.1 627.88l14.1 14.1M552.1 632.32l14.1 14.1M552.1 636.76l14.1 14.1M552.1 641.2l14.1 14.1M552.1 645.64l14.1 14.1M552.1 650.08l14.1 14.1M552.1 654.52l14.1 14.1M552.1 658.96l14.1 14.1M552.1 663.4l14.1 14.1M552.1 667.84l14.1 14.1M552.1 672.28l14.1 14.1M552.1 676.72l14.1 14.1M552.1 681.16l14.1 14.1M552.1 685.6l14.1 14.1M552.1 690.04l14.1 14.1M552.1 694.48l14.1 14.1M552.1 698.92l14.1 14.1M552.1 703.36l14.1 14.1M552.1 707.8l14.1 14.1M552.1 712.24l14.1 14.1" stroke="#0a0a0a" stroke-width="1.57" fill="none"/>
<rect class="bar" x="553.3" y="622.4" width="11.7" height="89.6" fill="none" style="stroke:#555;stroke-width:0.55"/>
<rect class="bar" x="590.4" y="627.4" width="11.4" height="84.6" fill="#8a8a8a"/>
<rect class="bar" x="605.3" y="560.9" width="11.7" height="151.1" fill="url(#pDots)"/>
<rect x="620" y="600.4" width="11.7" height="111.6" fill="#f9f9f9"/>
<path d="M622.25 600.4V712M624.65 600.4V712M627.05 600.4V712M629.45 600.4V712" stroke="#484848" stroke-width="0.62" fill="none"/>
<rect class="bar" x="620" y="600.4" width="11.7" height="111.6" fill="none"/>
<rect class="bar" x="634.7" y="633" width="11.7" height="79" fill="url(#pHorz)"/>
<clipPath id="cD14"><rect x="649.7" y="620.4" width="11.4" height="91.6"/></clipPath>
<rect x="649.7" y="620.4" width="11.4" height="91.6" fill="#fff"/>
<path clip-path="url(#cD14)" d="M648.5 606.04l13.8 13.8M648.5 610.48l13.8 13.8M648.5 614.92l13.8 13.8M648.5 619.36l13.8 13.8M648.5 623.8l13.8 13.8M648.5 628.24l13.8 13.8M648.5 632.68l13.8 13.8M648.5 637.12l13.8 13.8M648.5 641.56l13.8 13.8M648.5 646l13.8 13.8M648.5 650.44l13.8 13.8M648.5 654.88l13.8 13.8M648.5 659.32l13.8 13.8M648.5 663.76l13.8 13.8M648.5 668.2l13.8 13.8M648.5 672.64l13.8 13.8M648.5 677.08l13.8 13.8M648.5 681.52l13.8 13.8M648.5 685.96l13.8 13.8M648.5 690.4l13.8 13.8M648.5 694.84l13.8 13.8M648.5 699.28l13.8 13.8M648.5 703.72l13.8 13.8M648.5 708.16l13.8 13.8M648.5 712.6l13.8 13.8" stroke="#0a0a0a" stroke-width="1.57" fill="none"/>
<rect class="bar" x="649.7" y="620.4" width="11.4" height="91.6" fill="none" style="stroke:#555;stroke-width:0.55"/>
<line x1="384.8" y1="712" x2="674" y2="712" stroke="#707070" stroke-width="0.9"/>
<line x1="481.7" y1="712" x2="481.7" y2="709.8" stroke="#707070" stroke-width="0.8"/>
<line x1="578.2" y1="712" x2="578.2" y2="709.8" stroke="#707070" stroke-width="0.8"/>
<line x1="674" y1="712" x2="674" y2="709.8" stroke="#707070" stroke-width="0.8"/>
<line x1="384.8" y1="504.6" x2="384.8" y2="712.4" stroke="#8a8a8a" stroke-width="0.9"/>
<text class="g" text-anchor="end" x="377.1" y="714.61">0</text>
<line x1="384.8" y1="677.5" x2="387.2" y2="677.5" stroke="#8a8a8a" stroke-width="0.8"/>
<text class="g" text-anchor="end" x="377.1" y="680.11">1</text>
<line x1="384.8" y1="643" x2="387.2" y2="643" stroke="#8a8a8a" stroke-width="0.8"/>
<text class="g" text-anchor="end" x="377.1" y="645.61">2</text>
<line x1="384.8" y1="608.5" x2="387.2" y2="608.5" stroke="#8a8a8a" stroke-width="0.8"/>
<text class="g" text-anchor="end" x="377.1" y="611.11">3</text>
<line x1="384.8" y1="574" x2="387.2" y2="574" stroke="#8a8a8a" stroke-width="0.8"/>
<text class="g" text-anchor="end" x="377.1" y="576.61">4</text>
<line x1="384.8" y1="539.5" x2="387.2" y2="539.5" stroke="#8a8a8a" stroke-width="0.8"/>
<text class="g" text-anchor="end" x="377.1" y="542.11">5</text>
<line x1="384.8" y1="505" x2="387.2" y2="505" stroke="#8a8a8a" stroke-width="0.8"/>
<text class="g" text-anchor="end" x="377.1" y="507.61">6</text>
<path class="e" d="M403.45 640.5V656.1M401.75 640.5H405.15M401.75 656.1H405.15"/>
<text class="b" x="403.3" y="636.79">C</text>
<path class="e" d="M418.4 559.8V602.9M416.7 559.8H420.1M416.7 602.9H420.1"/>
<text class="b" x="417.8" y="555.99">ABC</text>
<path class="e" d="M433.25 561.4V592.3M431.55 561.4H434.95M431.55 592.3H434.95"/>
<text class="b" x="433.8" y="555.99">AB</text>
<path class="e" d="M448.1 630.4V658.1M446.4 630.4H449.8M446.4 658.1H449.8"/>
<text class="b" x="447.9" y="626.89">C</text>
<path class="e" d="M462.9 604.6V624.1M461.2 604.6H464.6M461.2 624.1H464.6"/>
<text class="b" x="462.9" y="601.59">ABC</text>
<path class="e" d="M500 626.3V653.5M498.3 626.3H501.7M498.3 653.5H501.7"/>
<text class="b" x="499.9" y="623.29">BC</text>
<path class="e" d="M514.9 584.3V613.3M513.2 584.3H516.6M513.2 613.3H516.6"/>
<text class="b" x="514.7" y="579.89">ABC</text>
<path class="e" d="M529.5 588.4V612.5M527.8 588.4H531.2M527.8 612.5H531.2"/>
<text class="b" x="528.9" y="583.69">ABC</text>
<path class="e" d="M544.2 601.4V629.4M542.5 601.4H545.9M542.5 629.4H545.9"/>
<text class="b" x="544.6" y="598.39">ABC</text>
<path class="e" d="M559.15 613.3V631.3M557.45 613.3H560.85M557.45 631.3H560.85"/>
<text class="b" x="559.3" y="611.49">ABC</text>
<path class="e" d="M596.1 608V646.5M594.4 608H597.8M594.4 646.5H597.8"/>
<text class="b" x="596" y="603.99">ABC</text>
<path class="e" d="M611.15 535.2V586.3M609.45 535.2H612.85M609.45 586.3H612.85"/>
<text class="b" x="610.8" y="531.49">A</text>
<path class="e" d="M625.85 586.3V614.7M624.15 586.3H627.55M624.15 614.7H627.55"/>
<text class="b" x="626.2" y="582.29">ABC</text>
<path class="e" d="M640.55 619.3V645.3M638.85 619.3H642.25M638.85 645.3H642.25"/>
<text class="b" x="641.2" y="615.09">ABC</text>
<path class="e" d="M655.4 608.4V632M653.7 608.4H657.1M653.7 632H657.1"/>
<text class="b" x="655.1" y="603.99">ABC</text>
<text class="g" text-anchor="middle" textLength="28.8" lengthAdjust="spacingAndGlyphs" x="433" y="724.69">Negative</text>
<text class="g" text-anchor="middle" textLength="36" lengthAdjust="spacingAndGlyphs" x="529.7" y="724.69">0.005 µg/L</text>
<text class="g" text-anchor="middle" textLength="36" lengthAdjust="spacingAndGlyphs" x="625.6" y="724.69">0.020 µg/L</text>
<text class="g" text-anchor="middle" textLength="64.8" lengthAdjust="spacingAndGlyphs" x="529" y="736.69">Pesticide treatment</text>
<text class="g" text-anchor="middle" textLength="119" lengthAdjust="spacingAndGlyphs" transform="translate(368.34 608) rotate(-90)" x="0" y="0">Abdominal lipids (percent dry mass)</text>
<text class="p" x="343" y="510.66">D.)</text>
</g>
<g id="chartE">
<rect class="bar" x="51.5" y="903.7" width="11.9" height="38.6" fill="#8a8a8a"/>
<rect class="bar" x="66.7" y="827.5" width="11.9" height="114.8" fill="url(#pDots)"/>
<rect x="81.7" y="845.6" width="11.9" height="96.7" fill="#f9f9f9"/>
<path d="M84.05 845.6V942.3M86.45 845.6V942.3M88.85 845.6V942.3M91.25 845.6V942.3" stroke="#484848" stroke-width="0.62" fill="none"/>
<rect class="bar" x="81.7" y="845.6" width="11.9" height="96.7" fill="none"/>
<rect class="bar" x="96.9" y="834.3" width="11.8" height="108" fill="url(#pHorz)"/>
<clipPath id="cE4"><rect x="112" y="887.8" width="12.2" height="54.5"/></clipPath>
<rect x="112" y="887.8" width="12.2" height="54.5" fill="#fff"/>
<path clip-path="url(#cE4)" d="M110.8 872.99l14.6 14.6M110.8 877.4l14.6 14.6M110.8 881.81l14.6 14.6M110.8 886.22l14.6 14.6M110.8 890.63l14.6 14.6M110.8 895.04l14.6 14.6M110.8 899.45l14.6 14.6M110.8 903.86l14.6 14.6M110.8 908.27l14.6 14.6M110.8 912.68l14.6 14.6M110.8 917.09l14.6 14.6M110.8 921.5l14.6 14.6M110.8 925.91l14.6 14.6M110.8 930.32l14.6 14.6M110.8 934.73l14.6 14.6M110.8 939.14l14.6 14.6" stroke="#0a0a0a" stroke-width="1.31" fill="none"/>
<rect class="bar" x="112" y="887.8" width="12.2" height="54.5" fill="none" style="stroke:#555;stroke-width:0.55"/>
<rect class="bar" x="150.5" y="903.5" width="11.9" height="38.8" fill="#8a8a8a"/>
<rect class="bar" x="165.5" y="870.4" width="11.9" height="71.9" fill="url(#pDots)"/>
<rect x="180.7" y="831.2" width="11.9" height="111.1" fill="#f9f9f9"/>
<path d="M183.05 831.2V942.3M185.45 831.2V942.3M187.85 831.2V942.3M190.25 831.2V942.3" stroke="#484848" stroke-width="0.62" fill="none"/>
<rect class="bar" x="180.7" y="831.2" width="11.9" height="111.1" fill="none"/>
<rect class="bar" x="195.9" y="857.4" width="11.8" height="84.9" fill="url(#pHorz)"/>
<clipPath id="cE9"><rect x="211" y="880.6" width="11.9" height="61.7"/></clipPath>
<rect x="211" y="880.6" width="11.9" height="61.7" fill="#fff"/>
<path clip-path="url(#cE9)" d="M209.8 868.18l14.3 14.3M209.8 872.59l14.3 14.3M209.8 877l14.3 14.3M209.8 881.41l14.3 14.3M209.8 885.82l14.3 14.3M209.8 890.23l14.3 14.3M209.8 894.64l14.3 14.3M209.8 899.05l14.3 14.3M209.8 903.46l14.3 14.3M209.8 907.87l14.3 14.3M209.8 912.28l14.3 14.3M209.8 916.69l14.3 14.3M209.8 921.1l14.3 14.3M209.8 925.51l14.3 14.3M209.8 929.92l14.3 14.3M209.8 934.33l14.3 14.3M209.8 938.74l14.3 14.3M209.8 943.15l14.3 14.3" stroke="#0a0a0a" stroke-width="1.31" fill="none"/>
<rect class="bar" x="211" y="880.6" width="11.9" height="61.7" fill="none" style="stroke:#555;stroke-width:0.55"/>
<rect class="bar" x="249.5" y="904.4" width="11.9" height="37.9" fill="#8a8a8a"/>
<rect class="bar" x="264.5" y="864.2" width="11.9" height="78.1" fill="url(#pDots)"/>
<rect x="279.7" y="828.3" width="11.9" height="114" fill="#f9f9f9"/>
<path d="M282.05 828.3V942.3M284.45 828.3V942.3M286.85 828.3V942.3M289.25 828.3V942.3" stroke="#484848" stroke-width="0.62" fill="none"/>
<rect class="bar" x="279.7" y="828.3" width="11.9" height="114" fill="none"/>
<rect class="bar" x="294.9" y="811.6" width="11.8" height="130.7" fill="url(#pHorz)"/>
<clipPath id="cE14"><rect x="310" y="877.7" width="12.2" height="64.6"/></clipPath>
<rect x="310" y="877.7" width="12.2" height="64.6" fill="#fff"/>
<path clip-path="url(#cE14)" d="M308.8 862.66l14.6 14.6M308.8 867.07l14.6 14.6M308.8 871.48l14.6 14.6M308.8 875.89l14.6 14.6M308.8 880.3l14.6 14.6M308.8 884.71l14.6 14.6M308.8 889.12l14.6 14.6M308.8 893.53l14.6 14.6M308.8 897.94l14.6 14.6M308.8 902.35l14.6 14.6M308.8 906.76l14.6 14.6M308.8 911.17l14.6 14.6M308.8 915.58l14.6 14.6M308.8 919.99l14.6 14.6M308.8 924.4l14.6 14.6M308.8 928.81l14.6 14.6M308.8 933.22l14.6 14.6M308.8 937.63l14.6 14.6M308.8 942.04l14.6 14.6" stroke="#0a0a0a" stroke-width="1.31" fill="none"/>
<rect class="bar" x="310" y="877.7" width="12.2" height="64.6" fill="none" style="stroke:#555;stroke-width:0.55"/>
<line x1="38.6" y1="942.3" x2="335.6" y2="942.3" stroke="#5e5e5e" stroke-width="0.9"/>
<line x1="137.6" y1="942.3" x2="137.6" y2="940.1" stroke="#5e5e5e" stroke-width="0.8"/>
<line x1="236.1" y1="942.3" x2="236.1" y2="940.1" stroke="#5e5e5e" stroke-width="0.8"/>
<line x1="335.6" y1="942.3" x2="335.6" y2="940.1" stroke="#5e5e5e" stroke-width="0.8"/>
<line x1="38.6" y1="758.9" x2="38.6" y2="942.7" stroke="#5e5e5e" stroke-width="0.9"/>
<text class="g" text-anchor="end" x="30.5" y="944.91">0</text>
<line x1="38.6" y1="905.7" x2="41" y2="905.7" stroke="#5e5e5e" stroke-width="0.8"/>
<text class="g" text-anchor="end" x="30.5" y="908.31">1</text>
<line x1="38.6" y1="869.1" x2="41" y2="869.1" stroke="#5e5e5e" stroke-width="0.8"/>
<text class="g" text-anchor="end" x="30.5" y="871.71">2</text>
<line x1="38.6" y1="832.5" x2="41" y2="832.5" stroke="#5e5e5e" stroke-width="0.8"/>
<text class="g" text-anchor="end" x="30.5" y="835.11">3</text>
<line x1="38.6" y1="795.9" x2="41" y2="795.9" stroke="#5e5e5e" stroke-width="0.8"/>
<text class="g" text-anchor="end" x="30.5" y="798.51">4</text>
<line x1="38.6" y1="759.3" x2="41" y2="759.3" stroke="#5e5e5e" stroke-width="0.8"/>
<text class="g" text-anchor="end" x="30.5" y="761.91">5</text>
<path class="e" d="M57.45 899.2V908.1M55.75 899.2H59.15M55.75 908.1H59.15"/>
<text class="b" x="57.2" y="893.29">E</text>
<path class="e" d="M72.65 806.6V847.6M70.95 806.6H74.35M70.95 847.6H74.35"/>
<text class="b" x="73.6" y="802.39">ABC</text>
<path class="e" d="M87.65 829.3V862M85.95 829.3H89.35M85.95 862H89.35"/>
<text class="b" x="86.7" y="821.69">ABC</text>
<path class="e" d="M102.8 823V845.4M101.1 823H104.5M101.1 845.4H104.5"/>
<text class="b" x="103.1" y="817.79">AB</text>
<path class="e" d="M118.1 884.2V891M116.4 884.2H119.8M116.4 891H119.8"/>
<text class="b" x="119.6" y="878.59">CDE</text>
<path class="e" d="M156.45 900.1V906.6M154.75 900.1H158.15M154.75 906.6H158.15"/>
<text class="b" x="156.4" y="894.99">DE</text>
<path class="e" d="M171.45 857V883.7M169.75 857H173.15M169.75 883.7H173.15"/>
<text class="b" x="170.4" y="849.89">BCDE</text>
<path class="e" d="M186.65 815.1V846.4M184.95 815.1H188.35M184.95 846.4H188.35"/>
<text class="b" x="186.2" y="810.89">AB</text>
<path class="e" d="M201.8 849V865.7M200.1 849H203.5M200.1 865.7H203.5"/>
<text class="b" x="202.3" y="846.79">ABC</text>
<path class="e" d="M216.95 877V883.8M215.25 877H218.65M215.25 883.8H218.65"/>
<text class="b" x="217.3" y="873.49">BCDE</text>
<path class="e" d="M255.45 900.6V907.8M253.75 900.6H257.15M253.75 907.8H257.15"/>
<text class="b" x="254.6" y="896.89">E</text>
<path class="e" d="M270.45 851.2V876.5M268.75 851.2H272.15M268.75 876.5H272.15"/>
<text class="b" x="266.2" y="845.79">ABCDE</text>
<path class="e" d="M285.65 816.5V839.6M283.95 816.5H287.35M283.95 839.6H287.35"/>
<text class="b" x="287.7" y="811.79">AB</text>
<path class="e" d="M300.8 793.4V829.5M299.1 793.4H302.5M299.1 829.5H302.5"/>
<text class="b" x="300.5" y="789.59">A</text>
<path class="e" d="M316.1 874.3V880.7M314.4 874.3H317.8M314.4 880.7H317.8"/>
<text class="b" x="316.7" y="869.59">BCD</text>
<text class="g" text-anchor="middle" textLength="28.8" lengthAdjust="spacingAndGlyphs" x="87.5" y="955.19">Negative</text>
<text class="g" text-anchor="middle" textLength="36" lengthAdjust="spacingAndGlyphs" x="186.5" y="955.19">0.005 µg/L</text>
<text class="g" text-anchor="middle" textLength="36" lengthAdjust="spacingAndGlyphs" x="285.5" y="955.19">0.020 µg/L</text>
<text class="g" text-anchor="middle" textLength="64.8" lengthAdjust="spacingAndGlyphs" x="186.6" y="966.99">Pesticide treatment</text>
<text class="g" text-anchor="middle" textLength="131" lengthAdjust="spacingAndGlyphs" transform="translate(22.24 850.8) rotate(-90)" x="0" y="0">Abdominal glycogen (percent dry mass)</text>
<text class="p" x="3.8" y="766.46">E.)</text>
</g>
<g id="chartF">
<rect class="bar" x="397.5" y="891.6" width="11.9" height="49.9" fill="#8a8a8a"/>
<rect class="bar" x="412.7" y="855.5" width="11.7" height="86" fill="url(#pDots)"/>
<rect x="427.7" y="837.7" width="11.9" height="103.8" fill="#f9f9f9"/>
<path d="M430.05 837.7V941.5M432.45 837.7V941.5M434.85 837.7V941.5M437.25 837.7V941.5" stroke="#484848" stroke-width="0.62" fill="none"/>
<rect class="bar" x="427.7" y="837.7" width="11.9" height="103.8" fill="none"/>
<rect class="bar" x="442.9" y="826.6" width="11.6" height="114.9" fill="url(#pHorz)"/>
<clipPath id="cF4"><rect x="457.8" y="855.5" width="11.9" height="86"/></clipPath>
<rect x="457.8" y="855.5" width="11.9" height="86" fill="#fff"/>
<path clip-path="url(#cF4)" d="M456.6 840.96l14.3 14.3M456.6 845.4l14.3 14.3M456.6 849.84l14.3 14.3M456.6 854.28l14.3 14.3M456.6 858.72l14.3 14.3M456.6 863.16l14.3 14.3M456.6 867.6l14.3 14.3M456.6 872.04l14.3 14.3M456.6 876.48l14.3 14.3M456.6 880.92l14.3 14.3M456.6 885.36l14.3 14.3M456.6 889.8l14.3 14.3M456.6 894.24l14.3 14.3M456.6 898.68l14.3 14.3M456.6 903.12l14.3 14.3M456.6 907.56l14.3 14.3M456.6 912l14.3 14.3M456.6 916.44l14.3 14.3M456.6 920.88l14.3 14.3M456.6 925.32l14.3 14.3M456.6 929.76l14.3 14.3M456.6 934.2l14.3 14.3M456.6 938.64l14.3 14.3" stroke="#0a0a0a" stroke-width="1.48" fill="none"/>
<rect class="bar" x="457.8" y="855.5" width="11.9" height="86" fill="none" style="stroke:#555;stroke-width:0.55"/>
<rect class="bar" x="494.8" y="895.5" width="11.9" height="46" fill="#8a8a8a"/>
<rect class="bar" x="509.8" y="847.1" width="11.9" height="94.4" fill="url(#pDots)"/>
<rect x="524.7" y="823.7" width="11.9" height="117.8" fill="#f9f9f9"/>
<path d="M527.05 823.7V941.5M529.45 823.7V941.5M531.85 823.7V941.5M534.25 823.7V941.5" stroke="#484848" stroke-width="0.62" fill="none"/>
<rect class="bar" x="524.7" y="823.7" width="11.9" height="117.8" fill="none"/>
<rect class="bar" x="539.6" y="797.4" width="11.9" height="144.1" fill="url(#pHorz)"/>
<clipPath id="cF9"><rect x="554.6" y="853.3" width="11.9" height="88.2"/></clipPath>
<rect x="554.6" y="853.3" width="11.9" height="88.2" fill="#fff"/>
<path clip-path="url(#cF9)" d="M553.4 840.82l14.3 14.3M553.4 845.26l14.3 14.3M553.4 849.7l14.3 14.3M553.4 854.14l14.3 14.3M553.4 858.58l14.3 14.3M553.4 863.02l14.3 14.3M553.4 867.46l14.3 14.3M553.4 871.9l14.3 14.3M553.4 876.34l14.3 14.3M553.4 880.78l14.3 14.3M553.4 885.22l14.3 14.3M553.4 889.66l14.3 14.3M553.4 894.1l14.3 14.3M553.4 898.54l14.3 14.3M553.4 902.98l14.3 14.3M553.4 907.42l14.3 14.3M553.4 911.86l14.3 14.3M553.4 916.3l14.3 14.3M553.4 920.74l14.3 14.3M553.4 925.18l14.3 14.3M553.4 929.62l14.3 14.3M553.4 934.06l14.3 14.3M553.4 938.5l14.3 14.3" stroke="#0a0a0a" stroke-width="1.48" fill="none"/>
<rect class="bar" x="554.6" y="853.3" width="11.9" height="88.2" fill="none" style="stroke:#555;stroke-width:0.55"/>
<rect class="bar" x="592.1" y="893.6" width="11.9" height="47.9" fill="#8a8a8a"/>
<rect class="bar" x="607.2" y="818.9" width="11.7" height="122.6" fill="url(#pDots)"/>
<rect x="622.2" y="822.7" width="11.9" height="118.8" fill="#f9f9f9"/>
<path d="M624.55 822.7V941.5M626.95 822.7V941.5M629.35 822.7V941.5M631.75 822.7V941.5" stroke="#484848" stroke-width="0.62" fill="none"/>
<rect class="bar" x="622.2" y="822.7" width="11.9" height="118.8" fill="none"/>
<rect class="bar" x="637.1" y="788.5" width="11.9" height="153" fill="url(#pHorz)"/>
<clipPath id="cF14"><rect x="652.1" y="859.8" width="11.9" height="81.7"/></clipPath>
<rect x="652.1" y="859.8" width="11.9" height="81.7" fill="#fff"/>
<path clip-path="url(#cF14)" d="M650.9 844.94l14.3 14.3M650.9 849.38l14.3 14.3M650.9 853.82l14.3 14.3M650.9 858.26l14.3 14.3M650.9 862.7l14.3 14.3M650.9 867.14l14.3 14.3M650.9 871.58l14.3 14.3M650.9 876.02l14.3 14.3M650.9 880.46l14.3 14.3M650.9 884.9l14.3 14.3M650.9 889.34l14.3 14.3M650.9 893.78l14.3 14.3M650.9 898.22l14.3 14.3M650.9 902.66l14.3 14.3M650.9 907.1l14.3 14.3M650.9 911.54l14.3 14.3M650.9 915.98l14.3 14.3M650.9 920.42l14.3 14.3M650.9 924.86l14.3 14.3M650.9 929.3l14.3 14.3M650.9 933.74l14.3 14.3M650.9 938.18l14.3 14.3" stroke="#0a0a0a" stroke-width="1.48" fill="none"/>
<rect class="bar" x="652.1" y="859.8" width="11.9" height="81.7" fill="none" style="stroke:#555;stroke-width:0.55"/>
<line x1="384.8" y1="941.5" x2="677" y2="941.5" stroke="#5e5e5e" stroke-width="0.9"/>
<line x1="482.2" y1="941.5" x2="482.2" y2="939.3" stroke="#5e5e5e" stroke-width="0.8"/>
<line x1="579.3" y1="941.5" x2="579.3" y2="939.3" stroke="#5e5e5e" stroke-width="0.8"/>
<line x1="677" y1="941.5" x2="677" y2="939.3" stroke="#5e5e5e" stroke-width="0.8"/>
<line x1="384.8" y1="758.9" x2="384.8" y2="941.9" stroke="#5e5e5e" stroke-width="0.9"/>
<text class="g" text-anchor="end" x="377.5" y="944.11">0</text>
<line x1="384.8" y1="905.06" x2="387.2" y2="905.06" stroke="#5e5e5e" stroke-width="0.8"/>
<text class="g" text-anchor="end" x="377.5" y="907.67">1</text>
<line x1="384.8" y1="868.62" x2="387.2" y2="868.62" stroke="#5e5e5e" stroke-width="0.8"/>
<text class="g" text-anchor="end" x="377.5" y="871.23">2</text>
<line x1="384.8" y1="832.18" x2="387.2" y2="832.18" stroke="#5e5e5e" stroke-width="0.8"/>
<text class="g" text-anchor="end" x="377.5" y="834.79">3</text>
<line x1="384.8" y1="795.74" x2="387.2" y2="795.74" stroke="#5e5e5e" stroke-width="0.8"/>
<text class="g" text-anchor="end" x="377.5" y="798.35">4</text>
<line x1="384.8" y1="759.3" x2="387.2" y2="759.3" stroke="#5e5e5e" stroke-width="0.8"/>
<text class="g" text-anchor="end" x="377.5" y="761.91">5</text>
<path class="e" d="M403.45 886.4V895.8M401.75 886.4H405.15M401.75 895.8H405.15"/>
<text class="b" x="403.7" y="881.69">CD</text>
<path class="e" d="M418.55 842.3V868.6M416.85 842.3H420.25M416.85 868.6H420.25"/>
<text class="b" x="418.4" y="837.09">BCD</text>
<path class="e" d="M433.65 820.4V854.8M431.95 820.4H435.35M431.95 854.8H435.35"/>
<text class="b" x="432.8" y="815.39">ABC</text>
<path class="e" d="M448.7 812.2V841.6M447 812.2H450.4M447 841.6H450.4"/>
<text class="b" x="448.2" y="807.19">AB</text>
<path class="e" d="M463.75 852.2V858.4M462.05 852.2H465.45M462.05 858.4H465.45"/>
<text class="b" x="462.8" y="845.59">AB</text>
<path class="e" d="M500.75 890.2V900.6M499.05 890.2H502.45M499.05 900.6H502.45"/>
<text class="b" x="501.6" y="885.29">D</text>
<path class="e" d="M515.75 833.4V860.4M514.05 833.4H517.45M514.05 860.4H517.45"/>
<text class="b" x="515.5" y="828.89">ABC</text>
<path class="e" d="M530.65 812.2V834.8M528.95 812.2H532.35M528.95 834.8H532.35"/>
<text class="b" x="530" y="805.79">AB</text>
<path class="e" d="M545.55 785.4V809M543.85 785.4H547.25M543.85 809H547.25"/>
<text class="b" x="545.3" y="781.19">A</text>
<path class="e" d="M560.55 848.1V858.1M558.85 848.1H562.25M558.85 858.1H562.25"/>
<text class="b" x="560.5" y="841.89">AB</text>
<path class="e" d="M598.05 887.6V898.7M596.35 887.6H599.75M596.35 898.7H599.75"/>
<text class="b" x="597.4" y="881.69">D</text>
<path class="e" d="M613.05 806.1V831.4M611.35 806.1H614.75M611.35 831.4H614.75"/>
<text class="b" x="613.4" y="800.69">ABC</text>
<path class="e" d="M628.15 808.3V837.2M626.45 808.3H629.85M626.45 837.2H629.85"/>
<text class="b" x="628" y="802.89">AB</text>
<path class="e" d="M643.05 774.1V803M641.35 774.1H644.75M641.35 803H644.75"/>
<text class="b" x="642.6" y="769.89">A</text>
<path class="e" d="M658.05 855.5V863.7M656.35 855.5H659.75M656.35 863.7H659.75"/>
<text class="b" x="658" y="849.19">ABC</text>
<text class="g" text-anchor="middle" textLength="28.8" lengthAdjust="spacingAndGlyphs" x="433.3" y="953.99">Negative</text>
<text class="g" text-anchor="middle" textLength="36" lengthAdjust="spacingAndGlyphs" x="530.8" y="953.99">0.005 µg/L</text>
<text class="g" text-anchor="middle" textLength="36" lengthAdjust="spacingAndGlyphs" x="628" y="953.99">0.020 µg/L</text>
<text class="g" text-anchor="middle" textLength="64.8" lengthAdjust="spacingAndGlyphs" x="530.6" y="966.19">Pesticide treatment</text>
<text class="g" text-anchor="middle" textLength="131" lengthAdjust="spacingAndGlyphs" transform="translate(368.74 850.6) rotate(-90)" x="0" y="0">Abdominal glycogen (percent dry mass)</text>
<text class="p" x="343.5" y="765.96">F.)</text>
</g>
<g id="legend">
<rect x="264.2" y="973.7" width="4.2" height="4.2" fill="#8a8a8a" stroke="#3c3c3c" stroke-width="0.6"/>
<text class="g" x="271.3" y="978.41">No diet</text>
<rect x="303.1" y="973.7" width="4.2" height="4.2" fill="url(#pDots)" stroke="#3c3c3c" stroke-width="0.6"/>
<text class="g" x="310.7" y="978.41">20:30</text>
<rect x="337.2" y="973.7" width="4.2" height="4.2" fill="url(#pVertL)" stroke="#3c3c3c" stroke-width="0.6"/>
<text class="g" x="343.8" y="978.41">30:20</text>
<rect x="370.9" y="973.7" width="4.2" height="4.2" fill="url(#pHorzL)" stroke="#3c3c3c" stroke-width="0.6"/>
<text class="g" x="378" y="978.41">40:10</text>
<rect x="404.2" y="973.7" width="4.2" height="4.2" fill="url(#pDiagL)" stroke="#3c3c3c" stroke-width="0.6"/>
<text class="g" x="411.9" y="978.41">Pollen</text>
</g>
</svg></body></html>
